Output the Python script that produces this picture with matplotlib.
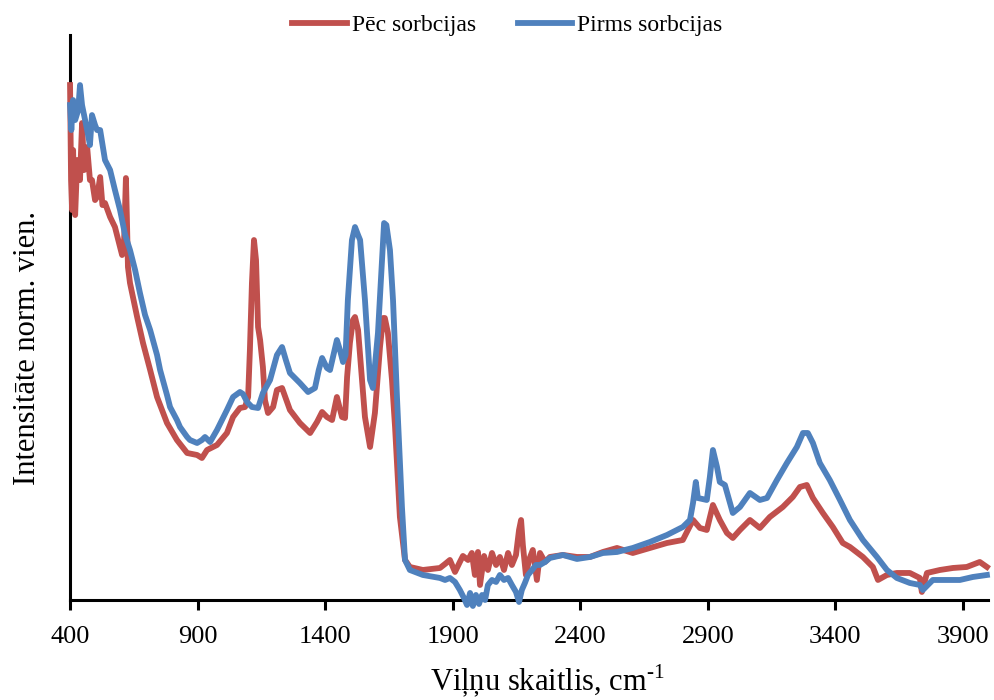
import matplotlib
matplotlib.use("Agg")
import matplotlib.pyplot as plt

plt.rcParams['font.family'] = ['Liberation Serif', 'DejaVu Serif']
plt.rcParams['mathtext.fontset'] = 'custom'
plt.rcParams['mathtext.rm'] = 'Liberation Serif'

# ---- data (wavenumber, cm-1 ; normalised intensity, arbitrary units) ----
pec_x = [400, 404, 408, 412, 416, 420, 428, 439, 447, 455, 467, 478, 486, 498, 506, 518, 527,
         537, 557, 576, 596, 604, 612, 619, 623, 627, 635, 663, 686, 714, 741, 780, 819, 859,
         898, 917, 937, 976, 1015, 1039, 1066, 1086, 1098, 1105, 1113, 1121, 1129, 1137, 1145,
         1156, 1164, 1176, 1196, 1211, 1231, 1262, 1301, 1341, 1368, 1388, 1407, 1427, 1446,
         1466, 1478, 1486, 1497, 1509, 1517, 1529, 1556, 1576, 1595, 1615, 1627, 1634, 1646,
         1662, 1674, 1693, 1713, 1732, 1783, 1850, 1870, 1889, 1909, 1928, 1940, 1960, 1975,
         1987, 1999, 2007, 2023, 2038, 2054, 2070, 2085, 2101, 2117, 2132, 2148, 2160, 2168,
         2175, 2187, 2199, 2214, 2230, 2242, 2262, 2281, 2332, 2387, 2438,
         2489, 2544, 2606, 2673, 2740, 2802, 2842, 2869, 2896, 2920, 2947, 2975, 2998, 3026,
         3065, 3104, 3143, 3194, 3233, 3261, 3288, 3312, 3351, 3390, 3429, 3457, 3508, 3547,
         3567, 3602, 3641, 3692, 3731, 3739, 3759, 3810, 3861, 3915, 3966, 3994]
pec_y = [515, 420, 390, 450, 400, 385, 440, 420, 477, 430, 453, 420, 420, 400, 403, 423, 395,
         397, 383, 373, 353, 345, 360, 422, 380, 333, 317, 283, 257, 230, 203, 177, 160, 147,
         145, 142, 150, 155, 167, 183, 192, 193, 203, 250, 317, 360, 340, 273, 260,
         233, 200, 187, 193, 210, 212, 190, 177, 167, 178, 188, 183, 180, 203,
         183, 182, 223, 257, 280, 283, 270, 183, 153, 187, 253, 282, 282, 267,
         220, 173, 83, 40, 33, 30, 32, 36, 40, 28, 38, 44, 40, 47,
         25, 48, 15, 44, 30, 47, 35, 43, 30, 47, 35, 45, 70, 80,
         55, 25, 40, 50, 20, 47, 38, 43, 45, 43, 43,
         48, 52, 47, 52, 57, 60, 80, 72, 70, 95, 80, 67, 62, 70,
         80, 72, 83, 93, 103, 113, 115, 102, 87, 73, 57, 53, 43, 33,
         20, 25, 27, 27, 22, 8, 27, 30, 32, 33, 38, 33]

pirms_x = [400, 405, 412, 420, 432, 439, 447, 459, 467, 478, 486, 498, 506, 518, 537, 557, 576,
           596, 616, 635, 655, 674, 694, 714, 741, 753, 780, 792, 819, 831, 859, 870, 898, 917,
           929, 949, 976, 1015, 1039, 1066, 1078, 1094, 1113, 1137, 1156, 1184, 1211, 1231,
           1246, 1262, 1301, 1333, 1360, 1375, 1388, 1407, 1419, 1446, 1458, 1470, 1480, 1489,
           1505, 1517, 1529, 1537, 1556, 1576, 1587, 1607, 1631, 1640, 1654, 1666, 1682, 1701,
           1713, 1732, 1783, 1850, 1870, 1889, 1909, 1928, 1944, 1956, 1968, 1979, 1991, 2003,
           2015, 2027, 2038, 2054, 2070, 2085, 2101, 2117, 2132, 2148, 2160, 2171, 2183, 2195,
           2211, 2226, 2242, 2262, 2281, 2332, 2387, 2438, 2489, 2544, 2606, 2673, 2740, 2802,
           2830, 2842, 2853, 2861, 2896, 2908, 2920, 2936, 2947, 2967, 2998, 3026, 3065, 3104,
           3132, 3171, 3210, 3249, 3273, 3292, 3312, 3339, 3378, 3418, 3457, 3508, 3563, 3602,
           3641, 3692, 3731, 3743, 3782, 3837, 3888, 3939, 3994]
pirms_y = [495, 470, 500, 480, 490, 515, 495, 480, 470, 455, 485, 475, 470, 470, 440, 430, 410,
           390, 365, 350, 330, 307, 285, 270, 245, 230, 205, 193, 180, 173, 163, 160, 157, 160,
           163, 158, 170, 190, 203, 208, 206, 198, 193, 192, 207, 220, 245, 253,
           240, 227, 217, 208, 212, 230, 242, 232, 230, 260, 250, 238, 245, 300,
           360, 373, 365, 360, 300, 220, 212, 267, 377, 375, 350, 300, 200, 93,
           40, 30, 25, 22, 20, 22, 18, 10, 2, -5, 7, -6, 5, -4,
           5, 0, 15, 20, 18, 25, 20, 22, 15, 8, -2, 10, 17, 25,
           30, 35, 35, 38, 42, 45, 41, 43, 47, 48, 52, 58, 65, 73,
           80, 97, 118, 102, 100, 123, 150, 133, 118, 115, 87, 93, 107, 100,
           102, 120, 137, 153, 167, 167, 157, 137, 120, 100, 80, 60, 43, 30,
           22, 17, 15, 10, 20, 20, 20, 23, 25]

series_names = ["Pēc sorbcijas", "Pirms sorbcijas"]
series_colors = ["#C0504D", "#4F81BD"]
x_ticks = [400, 900, 1400, 1900, 2400, 2900, 3400, 3900]
x_label = "Viļņu skaitlis, cm$^{\\text{-1}}$"
y_label = "Intensitāte norm. vien."

fig = plt.figure(figsize=(9.95, 7.0), dpi=100)
ax = fig.add_axes([0.0704, 0.1429, 0.923, 0.807])

ax.plot(pec_x, pec_y, color=series_colors[0], lw=4.2, label=series_names[0],
        solid_joinstyle='round', clip_on=False, zorder=2)
ax.plot(pirms_x, pirms_y, color=series_colors[1], lw=4.2, label=series_names[1],
        solid_joinstyle='round', clip_on=False, zorder=3)

ax.set_xlim(400, 4000)
ax.set_ylim(0, 565)
ax.set_xticks(x_ticks)
ax.set_xticklabels([str(t) for t in x_ticks], fontsize=19)
ax.set_yticks([])

for s in ['top', 'right']:
    ax.spines[s].set_visible(False)
for s in ['left', 'bottom']:
    ax.spines[s].set_linewidth(2.2)
    ax.spines[s].set_color('black')
    ax.spines[s].set_zorder(1)

ax.tick_params(axis='x', direction='out', length=7, width=2.2, pad=12)

ax.set_xlabel(x_label, fontsize=22)
ax.xaxis.set_label_coords(0.52, -0.112)
ax.xaxis.label.set_va('top')
ax.set_ylabel(y_label, fontsize=22)
ax.yaxis.set_label_coords(-0.031, 0.446)

fig.legend(loc='center', bbox_to_anchor=(0.51, 0.964), ncol=2, frameon=False,
           fontsize=17, handlelength=2.3, columnspacing=1.8, handletextpad=0.2)

fig.savefig("out.png", dpi=100)
